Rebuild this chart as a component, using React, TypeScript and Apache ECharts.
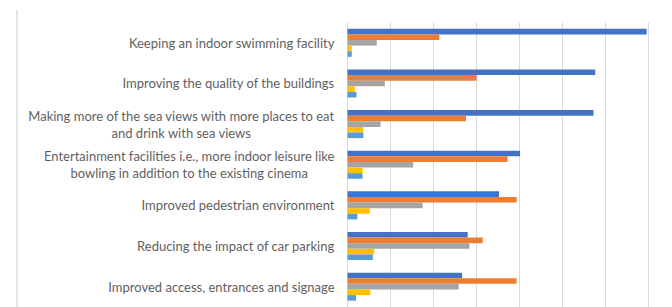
import React, { useEffect, useRef } from "react";
import * as echarts from "echarts";

const categories = [
  "Keeping an indoor swimming facility",
  "Improving the quality of the buildings",
  "Making more of the sea views with more places to eat\nand drink with sea views",
  "Entertainment facilities i.e., more indoor leisure like\nbowling in addition to the existing cinema",
  "Improved pedestrian environment",
  "Reducing the impact of car parking",
  "Improved access, entrances and signage",
];

const seriesNames = ["Very important", "Important", "Neutral", "Not important", "Not at all important"];
const seriesColors = ["#4472C4", "#ED7D31", "#A5A5A5", "#FFC000", "#5B9BD5"];

const veryImportant = [69.7, 57.7, 57.3, 40.2, 35.3, 28.0, 26.7];
const important = [21.4, 30.1, 27.6, 37.3, 39.4, 31.5, 39.4];
const neutral = [6.8, 8.7, 7.7, 15.3, 17.5, 28.4, 25.9];
const notImportant = [1.0, 1.7, 3.7, 3.5, 5.2, 6.2, 5.3];
const notAtAll = [1.0, 2.1, 3.7, 3.5, 2.3, 5.9, 2.0];

const seriesData = [veryImportant, important, neutral, notImportant, notAtAll];

const FONT = "Lato";
const FONT_SIZE = 13;

export default function App() {
  const ref = useRef<HTMLDivElement>(null);
  useEffect(() => {
    document.body.style.margin = "0";
    if (!ref.current) return;
    const chart = echarts.init(ref.current, null, { renderer: "svg" });
    chart.setOption({
      animation: false,
      backgroundColor: "#ffffff",
      grid: { left: 347.5, right: 24, top: 22.5, bottom: -9.5, containLabel: false },
      xAxis: {
        type: "value",
        min: 0,
        max: 70,
        interval: 10,
        axisLabel: { show: false },
        axisLine: { show: false },
        axisTick: { show: false },
        splitLine: { show: true, lineStyle: { color: "#D9D9D9", width: 1 } },
      },
      yAxis: {
        type: "category",
        data: categories,
        inverse: true,
        axisLine: { show: true, lineStyle: { color: "#D9D9D9", width: 1 } },
        axisTick: { show: false },
        axisLabel: {
          margin: 13,
          align: "right",
          color: "#5f5f5f",
          fontFamily: FONT,
          fontSize: FONT_SIZE,
          lineHeight: 17,
          formatter: (v: string) => v.split("\n").map((l) => `{c|${l}}`).join("\n"),
          rich: {
            c: { align: "center", color: "#5f5f5f", fontFamily: FONT, fontSize: FONT_SIZE, lineHeight: 17 },
          },
        },
      },
      graphic: [
        { type: "rect", left: 16, top: 10, shape: { width: 2, height: 310 }, style: { fill: "#E4E4E4" } },
      ],
      series: seriesData.map((d, i) => ({
        name: seriesNames[i],
        type: "bar",
        data: d,
        barGap: "0%",
        barCategoryGap: "31%",
        itemStyle: { color: seriesColors[i] },
      })),
    });
    return () => chart.dispose();
  }, []);
  return <div ref={ref} style={{ width: 672, height: 307 }} />;
}
